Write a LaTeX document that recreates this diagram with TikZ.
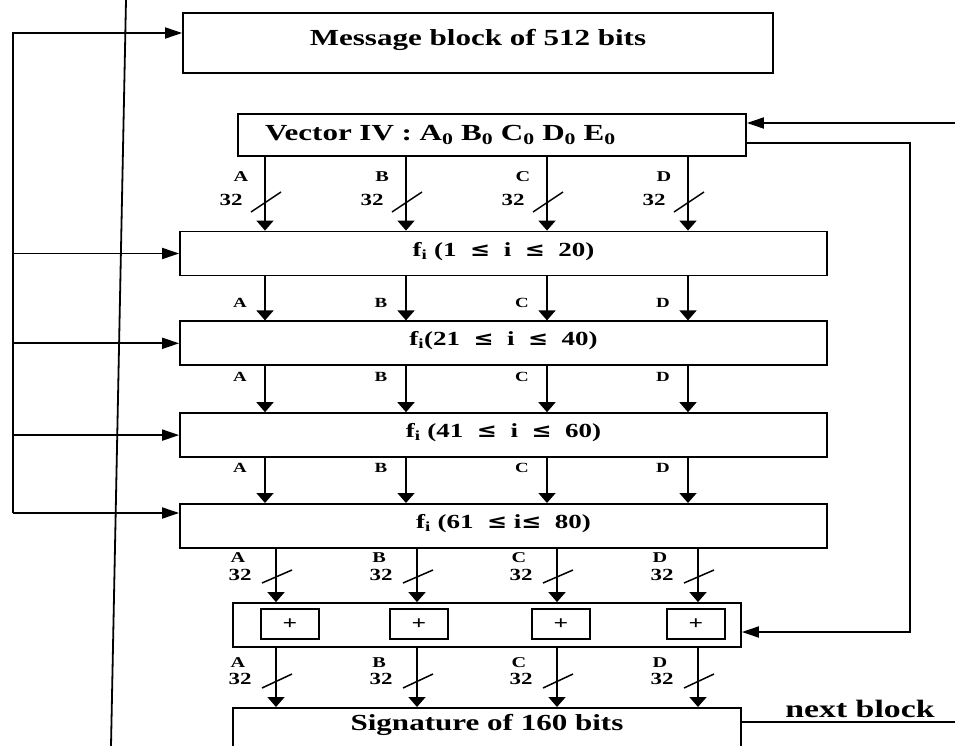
\documentclass[tikz,border=0pt]{standalone}
\usepackage{fontspec}
\setmainfont{Liberation Serif}[FakeStretch=1.35]
\newfontfamily\symfont{DejaVu Serif}[FakeStretch=1.2]
\newcommand\lesym{{\symfont\bfseries ≤}}
\usetikzlibrary{arrows.meta,positioning,calc}

\begin{document}
\begin{tikzpicture}[
  x=1pt, y=-1pt,
  font=\bfseries,
  box/.style={draw, line width=1.8pt, inner sep=0pt, minimum height=44pt},
  big/.style={font=\fontsize{23}{23}\selectfont\bfseries},
  fbox/.style={box, minimum width=647pt, text height=14pt, text depth=9pt, font=\fontsize{20}{20}\selectfont\bfseries},
  plusbox/.style={draw, line width=1.6pt, minimum width=58pt, minimum height=30pt, inner sep=0pt, font=\fontsize{19}{19}\selectfont\bfseries},
  link/.style={line width=1.8pt},
  harrow/.style={link, -{Triangle[length=17pt,width=11pt]}},
  varrow/.style={link, -{Triangle[length=10pt,width=17pt]}},
  letter/.style={inner sep=0pt, font=\fontsize{14}{14}\selectfont\bfseries},
  busletter/.style={inner sep=0pt, font=\fontsize{15}{15}\selectfont\bfseries},
  width/.style={inner sep=0pt, font=\fontsize{17}{17}\selectfont\bfseries},
  slash/.style={line width=1.5pt}
]
\useasboundingbox (0,0) rectangle (955,746);

% blocks
\node[box, big, minimum width=590pt, minimum height=60pt, text height=16pt, text depth=10pt] (msg) at (478,43) {Message block of 512 bits};
\node[box, big, minimum width=508pt, minimum height=42pt, inner xsep=27pt, text width=454pt, align=left] (vec) at (492,135)
  {Vector IV : A\textsubscript{0} B\textsubscript{0} C\textsubscript{0} D\textsubscript{0} E\textsubscript{0}};
\node[fbox] (f1) at (503.5,253.5) {f\textsubscript{i} (1 \ \lesym\ \ i \ \lesym\ \ 20)};
\node[fbox, below=44pt of f1] (f2) {f\textsubscript{i}(21 \ \lesym\ \ i \ \lesym\ \ 40)};
\node[fbox, below=46pt of f2] (f3) {f\textsubscript{i} (41 \ \lesym\ \ i \ \lesym\ \ 60)};
\node[fbox, below=45pt of f3] (f4) {f\textsubscript{i} (61 \ \lesym\ i\lesym\ \ 80)};
\node[box, minimum width=508pt] (add) at (487,625) {};
\node[plusbox] (p1) at (290,624) {+};
\node[plusbox] (p2) at (419,624) {+};
\node[plusbox] (p3) at (561,624) {+};
\node[plusbox] (p4) at (696,624) {+};
\node[box, big, anchor=north, minimum width=508pt, inner ysep=5pt, text height=18pt, text depth=32pt] (sig) at (487,707) {Signature of 160 bits};
\node[anchor=base, inner sep=0pt, font=\fontsize{25}{25}\selectfont\bfseries] (next) at (860,717) {next block};

% long line through the figure
\coordinate (vt) at (126,0);
\coordinate (vb) at (111,746);
\draw[link] (vt) -- (vb);

% message words into every round
\coordinate (ltop) at (13,33);
\coordinate (lbot) at (13,513);
\draw[harrow] (lbot) -- (ltop) -- (msg.west |- ltop);
\draw[harrow] (lbot) -- (f4.west |- lbot);
\foreach \f in {f1,f2,f3}
  \draw[harrow] (lbot |- \f.west) -- (\f.west);

% chaining value
\coordinate (rin) at (955,123);
\draw[harrow] (rin) -- (vec.east |- rin);
\coordinate (rx) at (910,143);
\draw[harrow] (vec.east |- rx) -- (rx) |- ([yshift=-7pt]add.east);
\coordinate (nb) at (955,722);
\draw[link] (sig.east |- nb) -- (nb);

% words A..D through the rounds
\foreach \c/\l/\x in {1/A/265,2/B/406,3/C/547,4/D/688} {
  \coordinate (u\c) at (\x,0);
  \draw[varrow] (vec.south -| u\c) -- (f1.north -| u\c);
  \node[busletter] (iv\c) at (\x-24,177) {\l};
  \node[width] (ivw\c) at (\x-34,200) {32};
  \draw[slash] (\x-14,212) -- (\x+16,192);
  \foreach \a/\b/\ly in {f1/f2/303,f2/f3/377,f3/f4/468} {
    \draw[varrow] (\a.south -| u\c) -- (\b.north -| u\c);
    \node[letter] (\a l\c) at (\x-25,\ly) {\l};
  }
}
\foreach \c/\l/\x in {1/A/276,2/B/417,3/C/557,4/D/698} {
  \coordinate (d\c) at (\x,0);
  \draw[varrow] (f4.south -| d\c) -- (add.north -| d\c);
  \node[busletter] (ou\c) at (\x-38,558) {\l};
  \node[width] (ouw\c) at (\x-36,575) {32};
  \draw[slash] (\x-14,583) -- (\x+16,570);
  \draw[varrow] (add.south -| d\c) -- (sig.north -| d\c);
  \node[busletter] (sg\c) at (\x-38,663) {\l};
  \node[width] (sgw\c) at (\x-36,679) {32};
  \draw[slash] (\x-14,688) -- (\x+16,674);
}

\end{tikzpicture}
\end{document}
